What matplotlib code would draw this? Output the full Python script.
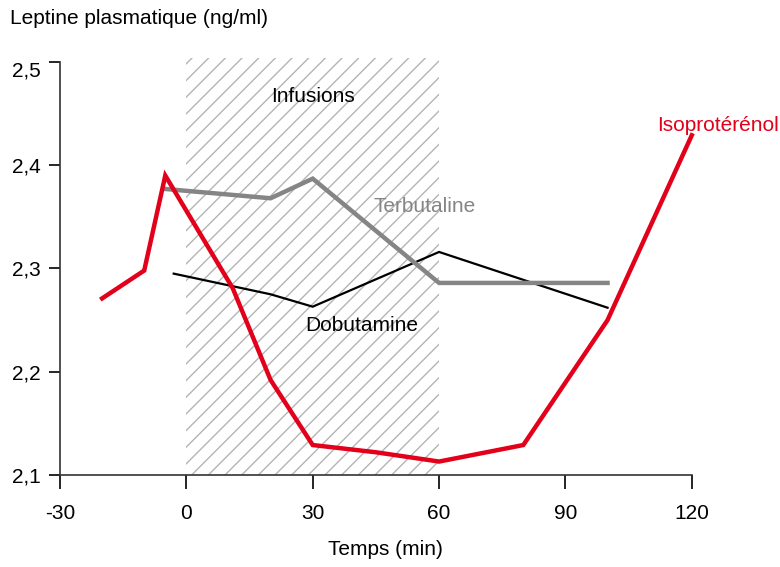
import matplotlib
matplotlib.use("Agg")
import matplotlib.pyplot as plt

plt.rcParams['font.family'] = ['Liberation Sans', 'DejaVu Sans']
plt.rcParams['hatch.linewidth'] = 1.0
plt.rcParams['axes.unicode_minus'] = False

iso_t = [-20, -10, -5, 11, 20, 30, 45, 60, 80, 100, 120]
iso_v = [2.271, 2.298, 2.390, 2.281, 2.192, 2.129, 2.122, 2.113, 2.129, 2.250, 2.429]

terb_t = [-5, 20, 30, 60, 100]
terb_v = [2.377, 2.368, 2.387, 2.286, 2.286]

dobu_t = [-3, 20, 30, 60, 100]
dobu_v = [2.295, 2.275, 2.263, 2.316, 2.262]

x_ticks = [-30, 0, 30, 60, 90, 120]
y_ticks = [2.1, 2.2, 2.3, 2.4, 2.5]
y_labels = ['2,1', '2,2', '2,3', '2,4', '2,5']

red = '#e2001a'
grey = '#858585'
fs = 15

fig = plt.figure(figsize=(7.8, 5.67), dpi=100)
ax = fig.add_axes([0.0769, 0.1623, 0.81, 0.7284])

# infusion period
ax.axvspan(0, 60, ymin=0, ymax=1.01, facecolor='none', edgecolor='#b4b4b4',
           hatch='//', linewidth=0, clip_on=False)

ax.plot(dobu_t, dobu_v, color='black', lw=1.6, solid_joinstyle='miter')
ax.plot(terb_t, terb_v, color=grey, lw=3.2, solid_joinstyle='miter')
ax.plot(iso_t, iso_v, color=red, lw=3.2, solid_joinstyle='miter', clip_on=False)

ax.set_xlim(-30, 120)
ax.set_ylim(2.1, 2.5)
ax.set_xticks(x_ticks)
ax.set_yticks(y_ticks)
ax.set_yticklabels(y_labels)
ax.tick_params(labelsize=fs, colors='black', width=1.2)
ax.tick_params(axis='y', length=8, pad=6)
ax.tick_params(axis='x', length=10, pad=11)
ax.get_yticklabels()[-1].set_va('top')
for s in ['top', 'right']:
    ax.spines[s].set_visible(False)
for s in ['left', 'bottom']:
    ax.spines[s].set_color('#333333')
    ax.spines[s].set_linewidth(1.2)

ax.text(30, 2.467, 'Infusions', fontsize=fs, ha='center', va='center')
ax.text(56.6, 2.360, 'Terbutaline', fontsize=fs, color=grey, ha='center', va='center')
ax.text(41.7, 2.245, 'Dobutamine', fontsize=fs, color='black', ha='center', va='center')
fig.text(0.998, 0.7795, 'Isoprotérénol', fontsize=fs, color=red, ha='right', va='center')

fig.text(0.013, 0.968, 'Leptine plasmatique (ng/ml)', fontsize=fs, ha='left', va='center')
fig.text(0.494, 0.030, 'Temps (min)', fontsize=fs, ha='center', va='center')

fig.savefig('out.png', dpi=100)
